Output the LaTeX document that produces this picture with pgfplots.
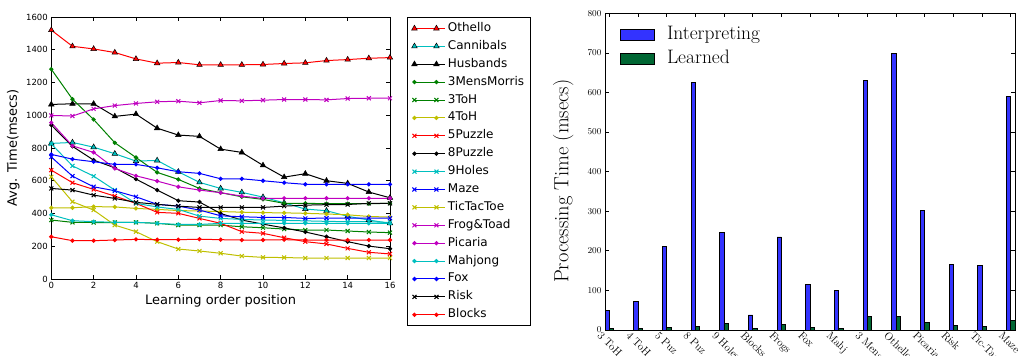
\documentclass[border=0pt]{standalone}
\usepackage{pgfplots}
\pgfplotsset{compat=1.18}
\usepackage{pgfplotstable}
\usepackage{fontspec}
\newfontfamily\dejavu{DejaVu Sans}
\definecolor{mb}{rgb}{0,0,1}
\definecolor{mg}{rgb}{0,0.5,0}
\definecolor{mr}{rgb}{1,0,0}
\definecolor{mc}{rgb}{0,0.75,0.75}
\definecolor{mm}{rgb}{0.75,0,0.75}
\definecolor{my}{rgb}{0.75,0.75,0}
\definecolor{barblue}{rgb}{0.2,0.2,1}
\definecolor{bargreen}{rgb}{0,0.4,0.2}
\pgfplotstableread{
pos Othello Cannibals Husbands MensMorris ToHthree ToHfour PuzzleFive PuzzleEight NineHoles Maze TicTacToe FrogToad Picaria Mahjong Fox Risk Blocks
0 1520 828 1066 1281 360 435 665 940 825 745 624 999 955 392 761 553 258
1 1421 834 1070 1098 346 435 588 810 691 628 472 995 813 356 732 543 234
2 1405 805 1070 974 345 442 547 726 628 563 421 1039 773 350 716 512 234
3 1383 765 993 832 345 440 506 679 543 539 329 1059 675 346 700 492 238
4 1344 720 1007 742 346 431 462 610 462 502 289 1072 630 346 700 468 242
5 1318 724 921 651 340 425 407 543 440 456 228 1082 598 340 679 456 240
6 1322 655 879 608 329 418 401 478 425 445 183 1086 563 333 655 445 240
7 1308 590 871 553 329 415 370 470 384 421 171 1076 543 333 645 437 243
8 1308 553 793 527 329 412 340 400 370 386 157 1090 527 340 612 437 240
9 1308 529 773 502 319 408 289 360 364 380 140 1088 506 340 612 437 238
10 1310 500 694 486 313 405 279 335 360 376 132 1092 492 340 600 437 238
11 1316 465 622 462 305 404 252 312 358 376 131 1096 493 340 588 445 240
12 1320 427 643 462 299 401 228 287 355 370 128 1096 493 340 578 451 238
13 1334 417 600 460 299 397 214 258 352 372 128 1094 493 340 578 454 238
14 1340 383 584 460 293 392 187 228 350 372 128 1102 493 340 578 455 238
15 1348 360 531 460 287 382 163 201 350 372 128 1104 493 340 578 462 238
16 1352 340 496 462 283 378 153 185 345 372 128 1104 493 340 578 462 238
}\learning
\pgfplotsset{
  tri/.style={color=#1, mark=triangle*, mark size=3.2pt, mark options={fill=#1, draw=black, line width=0.5pt}},
  dot/.style={color=#1, mark=*, mark size=1.6pt, mark options={fill=#1, draw=#1}},
  cross/.style={color=#1, mark=x, mark size=2.8pt},
  barlegend/.style={legend image code/.code={\draw[##1,draw=black,line width=0.8pt] (0pt,-5.8pt) rectangle (34pt,5.8pt);}},
}
\begin{document}
\begin{tikzpicture}
\begin{axis}[
  at={(51.3pt,77pt)}, anchor=south west,
  width=338.7pt, height=262pt, scale only axis,
  xmin=0, xmax=16, ymin=0, ymax=1600,
  xtick={0,2,...,16}, ytick={0,200,...,1600},
  tick align=inside, major tick length=4pt,
  axis line style={line width=0.9pt},
  tick style={line width=0.7pt, black},
  /pgf/number format/assume math mode=true,
  /pgf/number format/1000 sep={},
  tick label style={font=\dejavu\fontsize{8.5}{10}\selectfont},
  xlabel={Learning order position},
  ylabel={Avg. Time(msecs)},
  label style={font=\dejavu\fontsize{13}{15}\selectfont},
  ylabel style={at={(axis description cs:-0.083,0.5)}, anchor=south, rotate=0},
  xlabel style={at={(axis description cs:0.5,-0.045)}, anchor=north},
  every axis plot/.append style={line width=1pt},
  legend cell align=left,
  legend style={at={(1.051,1.0)}, anchor=north west, draw=black, line width=0.8pt,
    font=\dejavu\fontsize{12}{14}\selectfont, inner xsep=4pt, inner ysep=3pt,
    row sep=1.9pt, nodes={inner sep=2pt, text height=9pt, text depth=3pt}},
  legend image code/.code={\path (0pt,0pt) -- (31pt,0pt);
    \draw[#1] (0pt,0pt) -- (22pt,0pt);
    \draw[#1] plot[only marks] coordinates {(0pt,0pt) (22pt,0pt)};},
]
\addplot[tri=mr] table[x=pos,y=Othello] {\learning}; \addlegendentry{Othello}
\addplot[tri=mc] table[x=pos,y=Cannibals] {\learning}; \addlegendentry{Cannibals}
\addplot[tri=black] table[x=pos,y=Husbands] {\learning}; \addlegendentry{Husbands}
\addplot[dot=mg] table[x=pos,y=MensMorris] {\learning}; \addlegendentry{3MensMorris}
\addplot[cross=mg] table[x=pos,y=ToHthree] {\learning}; \addlegendentry{3ToH}
\addplot[dot=my] table[x=pos,y=ToHfour] {\learning}; \addlegendentry{4ToH}
\addplot[cross=mr] table[x=pos,y=PuzzleFive] {\learning}; \addlegendentry{5Puzzle}
\addplot[dot=black] table[x=pos,y=PuzzleEight] {\learning}; \addlegendentry{8Puzzle}
\addplot[cross=mc] table[x=pos,y=NineHoles] {\learning}; \addlegendentry{9Holes}
\addplot[cross=mb] table[x=pos,y=Maze] {\learning}; \addlegendentry{Maze}
\addplot[cross=my] table[x=pos,y=TicTacToe] {\learning}; \addlegendentry{TicTacToe}
\addplot[cross=mm] table[x=pos,y=FrogToad] {\learning}; \addlegendentry{Frog\&Toad}
\addplot[dot=mm] table[x=pos,y=Picaria] {\learning}; \addlegendentry{Picaria}
\addplot[dot=mc] table[x=pos,y=Mahjong] {\learning}; \addlegendentry{Mahjong}
\addplot[dot=mb] table[x=pos,y=Fox] {\learning}; \addlegendentry{Fox}
\addplot[cross=black] table[x=pos,y=Risk] {\learning}; \addlegendentry{Risk}
\addplot[dot=mr] table[x=pos,y=Blocks] {\learning}; \addlegendentry{Blocks}
\end{axis}

\begin{axis}[
  at={(605pt,26pt)}, anchor=south west,
  width=410pt, height=316.7pt, scale only axis,
  xmin=-0.15, xmax=14.15, ymin=0, ymax=800,
  ytick={0,100,...,800},
  xtick={0,...,14},
  xticklabels={3 ToH,4 ToH,5 Puz,8 Puz,9 Holes,Blocks,Frogs,Fox,Mahj,3 Mens,Othello,Picaria,Risk,Tic-Tac-Toe,Maze},
  tick align=inside, major tick length=4pt,
  axis line style={line width=0.9pt},
  tick style={line width=0.7pt, black},
  yticklabel style={font=\fontsize{9.5}{11}\selectfont},
  xticklabel style={font=\fontsize{11}{12}\selectfont, rotate=-45, anchor=north west, xshift=-8pt, yshift=-2pt},
  ylabel={Processing Time (msecs)},
  ylabel style={font=\fontsize{20.5}{24}\selectfont, at={(axis description cs:-0.068,0.47)}, anchor=south},
  legend cell align=left,
  legend style={at={(0.0366,0.953)}, anchor=north west, draw=none, fill=none,
    font=\fontsize{19.5}{23}\selectfont, inner sep=0pt, row sep=11pt,
    nodes={inner sep=0pt, inner xsep=12pt, text height=11pt, text depth=2pt}},
]
\addplot[ybar, bar width=4.3pt, bar shift=-2.15pt, fill=barblue, draw=black, line width=0.8pt, barlegend]
  coordinates {(0,50) (1,71) (2,210) (3,625) (4,247) (5,38) (6,235) (7,116) (8,99) (9,630) (10,699) (11,303) (12,165) (13,162) (14,590)};
\addlegendentry{Interpreting}
\addplot[ybar, bar width=4.3pt, bar shift=2.15pt, fill=bargreen, draw=black, line width=0.8pt, barlegend]
  coordinates {(0,3) (1,4) (2,7) (3,10) (4,16) (5,3) (6,15) (7,7) (8,5) (9,34) (10,35) (11,20) (12,11) (13,10) (14,24)};
\addlegendentry{Learned}
\end{axis}
\pgfresetboundingbox
\useasboundingbox (0,0) rectangle (1018pt,356pt);
\end{tikzpicture}
\end{document}
